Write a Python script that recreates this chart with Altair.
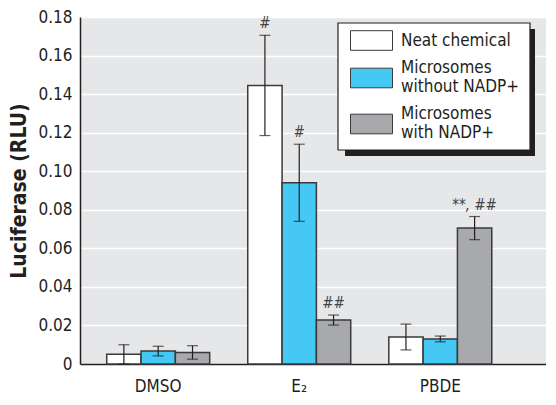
import altair as alt
import pandas as pd

groups = ["DMSO", "E₂", "PBDE"]
series = ["Neat chemical", "Microsomes without NADP+", "Microsomes with NADP+"]
colors = ["#ffffff", "#45c8f3", "#a7a9ac"]

neat = [0.005, 0.1445, 0.014]
without_nadp = [0.0067, 0.094, 0.013]
with_nadp = [0.006, 0.0228, 0.0705]

neat_err = [0.005, 0.026, 0.0067]
without_err = [0.0025, 0.020, 0.0015]
with_err = [0.0035, 0.0026, 0.006]

neat_sig = ["", "#", ""]
without_sig = ["", "#", ""]
with_sig = ["", "##", "**, ##"]

y_ticks = [0, 0.02, 0.04, 0.06, 0.08, 0.10, 0.12, 0.14, 0.16, 0.18]

rows = []
for s, vals, errs, sigs in zip(series, [neat, without_nadp, with_nadp],
                               [neat_err, without_err, with_err],
                               [neat_sig, without_sig, with_sig]):
    for g, v, e, t in zip(groups, vals, errs, sigs):
        rows.append({"group": g, "series": s, "value": v,
                     "lo": v - e, "hi": v + e, "sig": t})
df = pd.DataFrame(rows)

FONT = "DejaVu Sans Condensed, sans-serif"
INK = "#231f20"

xenc = alt.X("group:N", sort=groups, title=None,
             scale=alt.Scale(paddingInner=0.27, paddingOuter=0.287, align=0.33),
             axis=alt.Axis(labelAngle=0, ticks=False, domainColor=INK,
                           domainWidth=1.5, labelFontSize=17, labelPadding=14,
                           labelColor=INK, labelFont=FONT))
xoff = alt.XOffset("series:N",
                   scale=alt.Scale(domain=series, paddingInner=0, paddingOuter=0))

yscale = alt.Scale(domain=[0, 0.18], nice=False)
yaxis = alt.Axis(values=y_ticks,
                 labelExpr="datum.value == 0 ? '0' : format(datum.value, '.2f')",
                 labelOverlap=False,
                 ticks=False, grid=True, gridColor="#ffffff", gridWidth=1.5,
                 domainColor=INK, domainWidth=1.5, labelFontSize=17,
                 labelColor=INK, labelFont=FONT, labelPadding=8,
                 titleFont=FONT, titleFontSize=21, titleFontWeight="bold",
                 titleColor=INK, titlePadding=8)
TITLE = "Luciferase (RLU)"

base = alt.Chart(df)
deco = alt.Chart(pd.DataFrame({"a": [0]}))

shadow = deco.mark_rect(fill=INK).encode(
    x=alt.value(265), x2=alt.value(455), y=alt.value(12), y2=alt.value(139))
box = deco.mark_rect(fill="#ffffff", stroke=INK, strokeWidth=1.2).encode(
    x=alt.value(258), x2=alt.value(450), y=alt.value(6), y2=alt.value(133))

legend_common = dict(title=None, orient="none", padding=0, labelFont=FONT,
                     labelFontSize=17, labelColor=INK, labelLimit=300,
                     symbolSize=400, symbolStrokeColor="#3a3a3a",
                     symbolStrokeWidth=1, labelOffset=30)

bars_neat = base.transform_filter(alt.datum.series == series[0]).mark_bar(
    stroke="#3a3a3a", strokeWidth=1.5).encode(
    x=xenc, xOffset=xoff,
    y=alt.Y("value:Q", title=TITLE, scale=yscale, axis=yaxis),
    fill=alt.Fill("series:N",
                  scale=alt.Scale(domain=series[:1], range=colors[:1]),
                  legend=alt.Legend(legendX=270, legendY=13,
                                    symbolType="M-1,-0.98H3.2V0.98H-1Z",
                                    **legend_common)),
)

bars_micro = base.transform_filter(alt.datum.series != series[0]).mark_bar(
    stroke="#3a3a3a", strokeWidth=1.5).encode(
    x=xenc, xOffset=xoff,
    y=alt.Y("value:Q", title=TITLE, scale=yscale, axis=yaxis),
    fill=alt.Fill("series:N",
                  scale=alt.Scale(domain=series[1:], range=colors[1:]),
                  legend=alt.Legend(legendX=270, legendY=40, rowPadding=8,
                                    labelExpr="split(replace(datum.label, 'Microsomes ', 'Microsomes\\n'), '\\n')",
                                    symbolType="M-1,0.07H3.2V2.03H-1Z",
                                    **legend_common)),
)

rules = base.mark_rule(color=INK, strokeWidth=1.2).encode(
    x=xenc, xOffset=xoff,
    y=alt.Y("lo:Q", title=TITLE, scale=yscale, axis=yaxis), y2="hi:Q")
caps_hi = base.mark_tick(color=INK, thickness=1.2, size=11).encode(
    x=xenc, xOffset=xoff, y=alt.Y("hi:Q", title=TITLE, scale=yscale, axis=yaxis))
caps_lo = base.mark_tick(color=INK, thickness=1.2, size=11).encode(
    x=xenc, xOffset=xoff, y=alt.Y("lo:Q", title=TITLE, scale=yscale, axis=yaxis))
sig = base.mark_text(font=FONT, fontSize=15, fontStyle="italic", color="#444444",
                     baseline="bottom", dy=-4).encode(
    x=xenc, xOffset=xoff, y=alt.Y("hi:Q", title=TITLE, scale=yscale, axis=yaxis),
    text="sig:N")

chart = alt.layer(shadow, box, bars_neat, bars_micro, rules, caps_hi, caps_lo, sig).resolve_scale(
    fill="independent"
).properties(
    width=466, height=347, padding={"left": 0, "top": 0, "right": 0, "bottom": 5}
).configure_view(fill="#e6e7e8", stroke=None).configure_axis(labelOverlap=False)

chart.save("out.html", embed_options={"renderer": "svg", "actions": False})
